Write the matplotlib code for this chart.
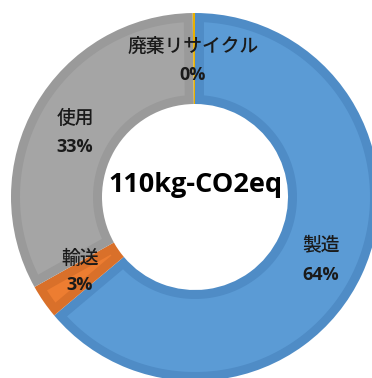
import matplotlib
matplotlib.use("Agg")
import matplotlib.pyplot as plt
import numpy as np
from matplotlib.patches import Polygon

categories = ["製造", "輸送", "使用", "廃棄リサイクル"]
values = [64, 3, 33, 0.2]
pct_labels = ["64%", "3%", "33%", "0%"]
center_text = "110kg-CO2eq"

fill_colors = ["#5B9BD5", "#ED7D31", "#A5A5A5", "#FFC000"]
edge_colors = ["#4F8CC6", "#D9702A", "#9A9A9A", "#E8B000"]

plt.rcParams['font.family'] = ['Noto Sans CJK JP', 'DejaVu Sans']

W, H = 372, 378
fig = plt.figure(figsize=(W / 100, H / 100), dpi=100)
ax = fig.add_axes([0, 0, 1, 1])

cx, cy = 195, H - 197
R = 184
w = 91
inset = 9

wedges, _ = ax.pie(values, radius=R, center=(cx, cy), startangle=90, counterclock=False,
                   colors=edge_colors, frame=True,
                   wedgeprops=dict(width=w, linewidth=0))

# lighter inner fill, inset from the darker rim
for wdg, fc in zip(wedges, fill_colors):
    t1, t2 = sorted((wdg.theta1, wdg.theta2))
    ro = R - inset
    ri = R - w + inset
    d_o = np.degrees(np.arcsin(inset / ro))
    d_i = np.degrees(np.arcsin(inset / ri))
    if (t2 - t1) <= 2 * d_i:
        continue
    a_out = np.radians(np.linspace(t1 + d_o, t2 - d_o, 200))
    a_in = np.radians(np.linspace(t2 - d_i, t1 + d_i, 200))
    xs = np.concatenate([cx + ro * np.cos(a_out), cx + ri * np.cos(a_in)])
    ys = np.concatenate([cy + ro * np.sin(a_out), cy + ri * np.sin(a_in)])
    ax.add_patch(Polygon(np.column_stack([xs, ys]), closed=True, facecolor=fc,
                         edgecolor='none', zorder=wdg.get_zorder() + 0.1))

ax.set_xlim(0, W)
ax.set_ylim(0, H)
ax.set_aspect('equal')
ax.axis('off')

label_pos = [(321, 245, 275), (80, 258, 285), (75, 118, 147), (193, 46, 75)]
for cat, pct, (x, y1, y2) in zip(categories, pct_labels, label_pos):
    ax.text(x, H - y1, cat, ha='center', va='center', fontsize=13.5, fontweight='medium',
            color='#1a1a1a', zorder=5)
    ax.text(x, H - y2, pct, ha='center', va='center', fontsize=13, fontweight='bold',
            color='#1a1a1a', family=['Open Sans', 'DejaVu Sans'], zorder=5)

ax.text(cx, H - 185, center_text, ha='center', va='center', fontsize=19.5,
        fontweight='bold', color='black', family=['Open Sans', 'DejaVu Sans'], zorder=5)

fig.savefig("out.png", dpi=100)
